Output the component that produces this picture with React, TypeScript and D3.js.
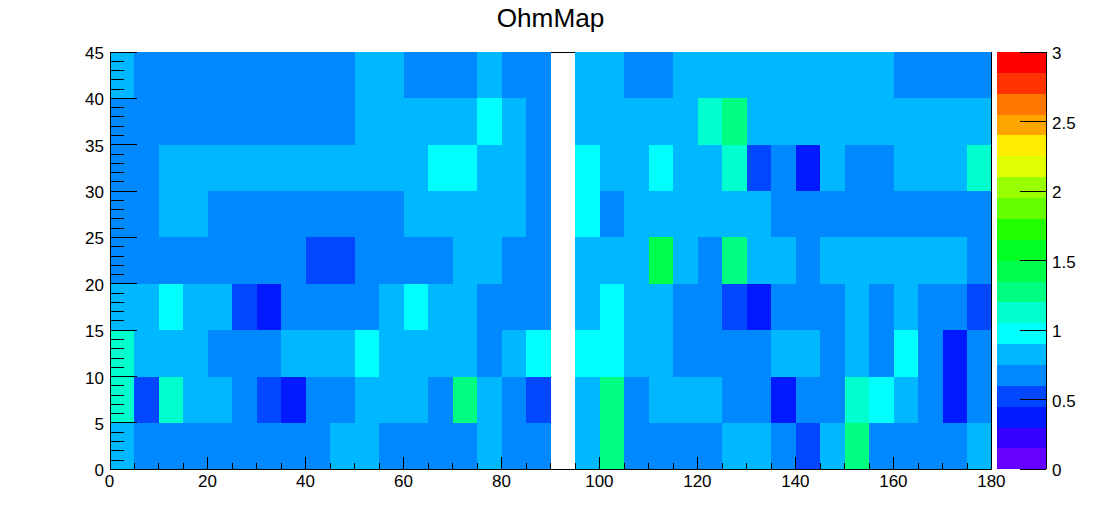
import React from 'react';
import * as d3 from 'd3';

const width = 1102;
const height = 522;

const plotLeft = 109.9;
const plotRight = 991.9;
const plotTop = 52;
const plotBottom = 469.33;
const frameLeft = 110.5;

const _ = null; // empty bin

// columns are 5 wide (0-180), one array per row of 5 (0-45)
const row00 = [.8, .7, .7, .7, .7, .7, .7, .7, .7, .8, .8, .7, .7, .7, .7, .8, .7, .7, _, .8, 1.3, .7, .7, .7, .7, .8, .8, .7, .5, .8, 1.3, .7, .7, .7, .7, .8];
const row05 = [1.1, .5, 1.1, .8, .8, .7, .5, .4, .7, .7, .8, .8, .8, .7, 1.3, .8, .7, .5, _, .8, 1.3, .7, .8, .8, .8, .7, .7, .4, .7, .7, 1.1, 1, .8, .7, .4, .7];
const row10 = [1.1, .8, .8, .8, .7, .7, .7, .8, .8, .8, 1, .8, .8, .8, .8, .7, .8, 1, _, 1, 1, .8, .8, .7, .7, .7, .7, .8, .8, .7, .8, .7, 1, .7, .4, .7];
const row15 = [.8, .8, 1, .8, .8, .5, .4, .7, .7, .7, .7, .8, 1, .8, .8, .7, .7, .7, _, .8, 1, .8, .8, .7, .7, .5, .4, .7, .7, .7, .8, .7, .8, .7, .7, .5];
const row20 = [.7, .7, .7, .7, .7, .7, .7, .7, .5, .5, .7, .7, .7, .7, .8, .8, .7, .7, _, .8, .8, .8, 1.4, .8, .7, 1.3, .8, .8, .7, .8, .8, .8, .8, .8, .8, .7];
const row25 = [.7, .7, .8, .8, .7, .7, .7, .7, .7, .7, .7, .7, .8, .8, .8, .8, .8, .7, _, 1, .7, .8, .8, .8, .8, .8, .8, .7, .7, .7, .7, .7, .7, .7, .7, .7];
const row30 = [.7, .7, .8, .8, .8, .8, .8, .8, .8, .8, .8, .8, .8, 1, 1, .8, .8, .7, _, 1, .8, .8, 1, .8, .8, 1.1, .5, .7, .4, .8, .7, .7, .8, .8, .8, 1.1];
const row35 = [.7, .7, .7, .7, .7, .7, .7, .7, .7, .7, .8, .8, .8, .8, .8, 1, .8, .7, _, .8, .8, .8, .8, .8, 1.1, 1.3, .8, .8, .8, .8, .8, .8, .8, .8, .8, .8];
const row40 = [.8, .7, .7, .7, .7, .7, .7, .7, .7, .7, .8, .8, .7, .7, .7, .8, .7, .7, _, .8, .8, .7, .7, .8, .8, .8, .8, .8, .8, .8, .8, .8, .7, .7, .7, .7];
const rows = [row00, row05, row10, row15, row20, row25, row30, row35, row40];

const palette = [
  '#6600ff', '#3300ff', '#0019ff', '#0047ff', '#0088ff', '#00b8ff', '#00ffff',
  '#00ffcc', '#00ff80', '#00ff4d', '#00ff22', '#22ff00', '#66ff00', '#99ff00',
  '#e0ff00', '#ffee00', '#ffa500', '#ff7700', '#ff3300', '#ff0000',
];

const xTicks = [0, 20, 40, 60, 80, 100, 120, 140, 160, 180];
const yTicks = [0, 5, 10, 15, 20, 25, 30, 35, 40, 45];
const zTicks = [0, 0.5, 1, 1.5, 2, 2.5, 3];

const x = d3.scaleLinear().domain([0, 180]).range([plotLeft, plotRight]);
const y = d3.scaleLinear().domain([0, 45]).range([plotBottom, plotTop]);
const z = d3.scaleLinear().domain([0, 3]).range([plotBottom, plotTop]);
const color = d3.scaleQuantize<string>().domain([0, 3]).range(palette);

const barLeft = 997;
const barRight = 1046;

function App() {
  const font = '"Liberation Sans", Arial, sans-serif';
  return (
    <svg
      width={width}
      height={height}
      viewBox={`0 0 ${width} ${height}`}
      style={{ position: 'absolute', left: 0, top: 0, background: '#fff' }}
      fontFamily={font}
    >
      <text x={550.5} y={27} textAnchor="middle" fontSize={26.2}>
        OhmMap
      </text>

      <path d={`M${frameLeft} ${y(45) + 0.5}H${x(180)}`} stroke="#000" fill="none" />

      <g shapeRendering="crispEdges">
        {rows.map((row, r) =>
          row.map((v, c) =>
            v === null ? null : (
              <rect
                key={`${r}-${c}`}
                x={x(c * 5)}
                y={y((r + 1) * 5)}
                width={x((c + 1) * 5) - x(c * 5)}
                height={y(r * 5) - y((r + 1) * 5)}
                fill={color(v)}
              />
            )
          )
        )}
      </g>

      {/* frame and ticks */}
      <g stroke="#000" fill="none" shapeRendering="crispEdges">
        <path d={`M${frameLeft} ${y(45)}V${y(0)}H${x(180)}V${y(45)}`} />
        {d3.range(5, 181, 5).map((t) => (
          <path key={t} d={`M${x(t)} ${y(0)}v${t % 20 === 0 ? -12 : -6}`} />
        ))}
        {d3.range(0, 46, 1).map((t) => (
          <path key={t} d={`M${frameLeft} ${y(t)}h${t % 5 === 0 ? 26 : 13}`} />
        ))}
      </g>

      <g fontSize={17} fill="#000">
        {xTicks.map((t) => (
          <text key={t} x={x(t) - 0.5} y={487} textAnchor="middle">
            {t}
          </text>
        ))}
        {yTicks.map((t) => (
          <text key={t} x={104} y={y(t) + 7} textAnchor="end">
            {t}
          </text>
        ))}
      </g>

      {/* colour scale */}
      <g shapeRendering="crispEdges">
        {palette.map((c, i) => (
          <rect
            key={c}
            x={barLeft}
            y={z((i + 1) * 0.15)}
            width={barRight - barLeft}
            height={z(i * 0.15) - z((i + 1) * 0.15)}
            fill={c}
          />
        ))}
      </g>
      <g stroke="#000" fill="none" shapeRendering="crispEdges">
        <path d={`M${barRight} ${z(3)}V${z(0)}`} />
        {zTicks.map((t) => (
          <path key={t} d={`M${barRight} ${z(t)}H1020`} />
        ))}
      </g>
      <g fontSize={17} fill="#000">
        {zTicks.map((t) => (
          <text key={t} x={1052} y={z(t) + 7}>
            {t}
          </text>
        ))}
      </g>
    </svg>
  );
}

export default App;
